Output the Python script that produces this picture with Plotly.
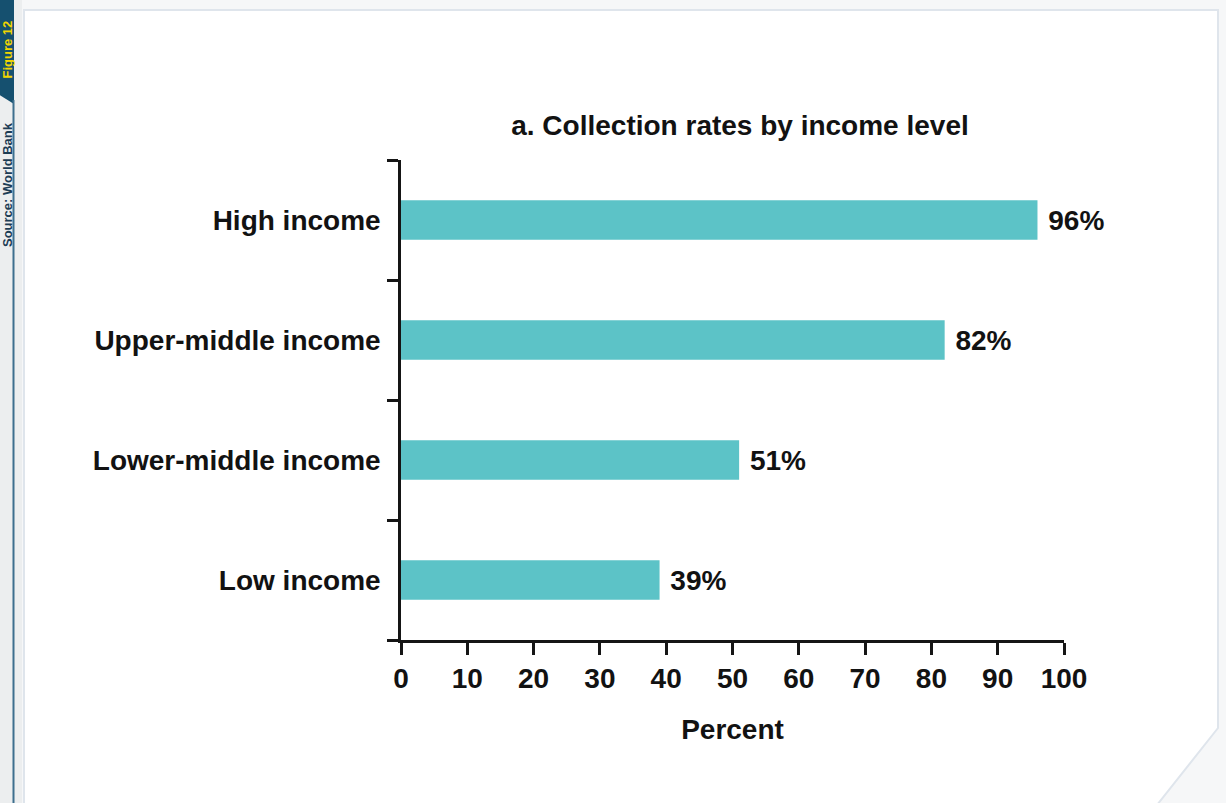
import plotly.graph_objects as go

categories = ["High income", "Upper-middle income", "Lower-middle income", "Low income"]
rates = [96, 82, 51, 39]
labels = ["96%", "82%", "51%", "39%"]
x_ticks = [0, 10, 20, 30, 40, 50, 60, 70, 80, 90, 100]

W, H = 1226, 803
L, R, T, B = 401, 1064, 160, 640

def px(x):
    return (x - L) / (R - L)

def py(y):
    return (B - y) / (B - T)

FONT = "Liberation Sans, Arial, sans-serif"
TXT = "#121212"
FS = 28

fig = go.Figure()
fig.add_trace(go.Bar(
    y=categories, x=rates, orientation="h",
    width=0.33,
    marker=dict(color="#5cc3c7", line=dict(width=0)),
    text=labels, texttemplate=" %{text}", textposition="outside",
    textfont=dict(family=FONT, size=FS, color=TXT, weight="bold"),
    cliponaxis=False,
))

shapes = [
    # panel
    dict(type="path", xref="paper", yref="paper", layer="below",
         path=f"M {px(24)},{py(10)} L {px(1218)},{py(10)} L {px(1218)},{py(728)} "
              f"L {px(1157)},{py(805)} L {px(24)},{py(805)} Z",
         fillcolor="white", line=dict(color="#dfe5ec", width=2)),
    # left strip
    dict(type="rect", xref="paper", yref="paper", layer="below",
         x0=px(-2), x1=px(22), y0=py(-2), y1=py(805),
         fillcolor="#eceeef", line=dict(width=0)),
    # dark tab
    dict(type="path", xref="paper", yref="paper", layer="below",
         path=f"M {px(-2)},{py(-2)} L {px(14)},{py(-2)} L {px(14)},{py(104)} "
              f"L {px(-2)},{py(94)} Z",
         fillcolor="#15506f", line=dict(width=0)),
    # vertical line
    dict(type="line", xref="paper", yref="paper", layer="below",
         x0=px(13.5), x1=px(13.5), y0=py(100), y1=py(805),
         line=dict(color="#3d6f8e", width=2)),
]

annotations = [
    dict(text="<b>Figure 12</b>", xref="paper", yref="paper",
         x=px(7.5), y=py(50), xanchor="center", yanchor="middle",
         textangle=-90, showarrow=False,
         font=dict(family=FONT, size=13, color="#f2d600")),
    dict(text="<b>Source: World Bank</b>", xref="paper", yref="paper",
         x=px(7), y=py(185), xanchor="center", yanchor="middle",
         textangle=-90, showarrow=False,
         font=dict(family=FONT, size=13, color="#1c3c54")),
]

fig.update_layout(
    width=W, height=H,
    margin=dict(l=L, r=W - R, t=T, b=H - B),
    paper_bgcolor="#f6f7f8",
    plot_bgcolor="rgba(0,0,0,0)",
    showlegend=False,
    shapes=shapes,
    annotations=annotations,
    title=dict(text="a. Collection rates by income level",
               x=px(740), xref="paper", xanchor="center",
               y=1 - 125 / H, yref="container", yanchor="middle",
               font=dict(family=FONT, size=FS, color=TXT, weight="bold")),
    font=dict(family=FONT, color=TXT),
)

fig.update_xaxes(
    range=[0, 100], tickvals=x_ticks, ticktext=[str(v) for v in x_ticks],
    showgrid=False, zeroline=False,
    showline=True, linecolor="#151515", linewidth=2.5,
    ticks="outside", ticklen=12, tickwidth=2.5, tickcolor="#151515",
    tickfont=dict(family=FONT, size=FS, color=TXT, weight="bold"),
    title=dict(text="Percent", standoff=27,
               font=dict(family=FONT, size=FS, color=TXT, weight="bold")),
)

fig.update_yaxes(
    categoryorder="array", categoryarray=categories[::-1],
    range=[-0.5, 3.5],
    tickson="boundaries",
    showgrid=False, zeroline=False,
    showline=True, linecolor="#151515", linewidth=2.5,
    ticks="outside", ticklen=11, tickwidth=2.5, tickcolor="#151515",
    ticklabelstandoff=12,
    tickfont=dict(family=FONT, size=FS, color=TXT, weight="bold"),
)

fig.write_html("out.html",
               config={"displayModeBar": False},
               post_script="document.body.style.margin='0';document.body.style.padding='0';")
